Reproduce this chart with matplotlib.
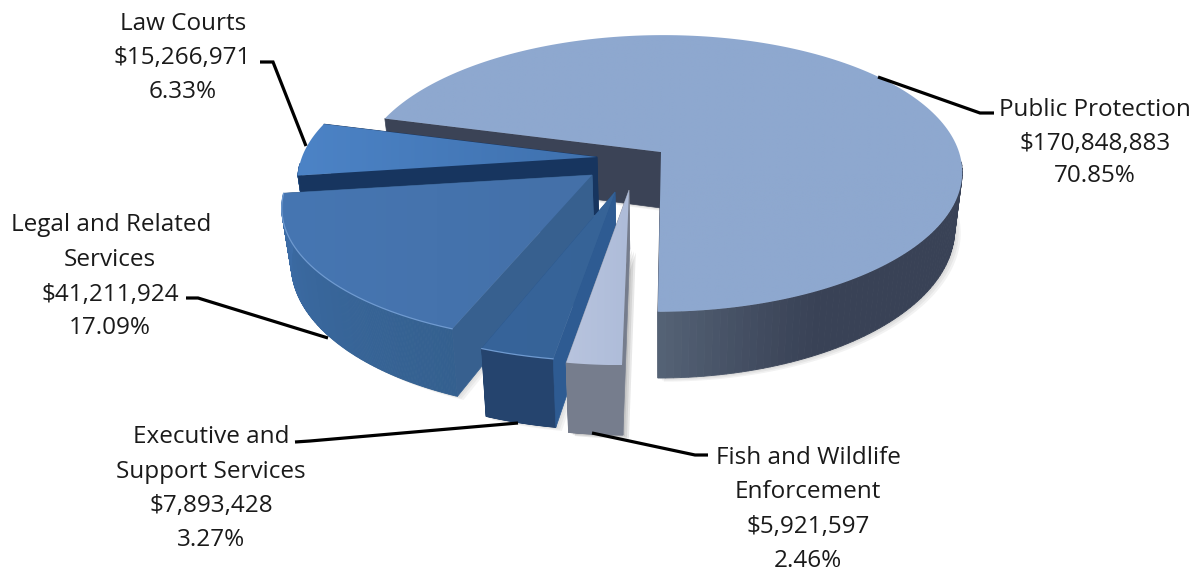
import numpy as np
import matplotlib
matplotlib.use("Agg")
import matplotlib.pyplot as plt
from matplotlib.colors import to_rgb
from matplotlib.patches import Polygon

# Budget categories, clockwise from the front of the pie
categories = ["Fish and Wildlife\nEnforcement", "Executive and\nSupport Services",
              "Legal and Related\nServices", "Law Courts", "Public Protection"]
amounts = [5921597, 7893428, 41211924, 15266971, 170848883]
percent_labels = ["2.46%", "3.27%", "17.09%", "6.33%", "70.85%"]

# Perspective and explosion of each slice: apex x/y, radii, tilt, skew, thickness
geometry = [
    dict(ax=629, ay=190, a=148, b=308, p=.155, s=-.04, d=59),
    dict(ax=615, ay=192, a=143, b=312, p=.155, s=-.031, d=58),
    dict(ax=592, ay=175, a=129, b=301, p=.23, s=-.03, d=53),
    dict(ax=597, ay=157, a=133, b=295, p=.155, s=-.03, d=58),
    dict(ax=661, ay=152, a=135, b=298, p=.155, s=-.02, d=56),
]
styles = [
    dict(top=("#b8c4de", "#aebcd9"), wall=("#767d8d", "#767d8d"), left="#8a90a0", right="#767d8d"),
    dict(top=("#36639a", "#376497"), wall=("#25446e", "#25446e"), left="#2d5a90", right="#2e5b92"),
    dict(top=("#4676b2", "#4470a8"), wall=("#34608f", "#3d6da8"), left="#37608f", right="#37608f"),
    dict(top=("#4c83c6", "#3f71ae"), wall=("#3a6aa6", "#3a6aa6"), left="#17355f", right="#17355f"),
    dict(top=("#8ea8cf", "#8ea8cf"), wall=("#394256", "#566477"), left="#3b4356", right="#3b4356"),
]
shadow_strength = [.16, .08, .08, 0, .09]
label_positions = [
    [(808, 455), (808, 489), (808, 524), (808, 558)],
    [(211, 434), (211, 469), (211, 503), (211, 537)],
    [(111, 222), (110, 257), (110, 292), (110, 325)],
    [(183, 21), (182, 55), (183, 89)],
    [(1095, 107), (1095, 141), (1095, 173)],
]
leaders = [
    [(592, 433), (695, 455), (708, 455)],
    [(295, 442), (310, 441), (518, 423)],
    [(186, 298), (198, 298), (328, 338)],
    [(260, 62), (273, 62), (306, 146)],
    [(878, 77), (980, 113), (994, 113)],
]

W, H = 1200, 572
fig = plt.figure(figsize=(W / 100, H / 100), dpi=100)
ax = fig.add_axes([0, 0, 1, 1])
ax.axis("off")


def project(g, theta, bottom=False):
    """Map an angle on the pie rim to the picture, optionally on the lower face."""
    u, v = np.sin(theta), np.cos(theta)
    w = 1 - g["p"] * v
    y = g["ay"] + g["a"] * v / w
    x = g["ax"] + g["b"] * u / w + g["s"] * (y - g["ay"])
    if bottom:
        x = x + (660 - x) * .025
        y = y + g["d"] / w
    return x, y


def apex(g, bottom=False):
    if bottom:
        x = g["ax"] + (660 - g["ax"]) * .025
        return x, g["ay"] + g["d"]
    return g["ax"], g["ay"]


def mix(c0, c1, t):
    c0, c1 = np.array(to_rgb(c0)), np.array(to_rgb(c1))
    return tuple(c0 + (c1 - c0) * t)


def radial_face(g, tx, ty, bx, by, side, col, zorder):
    quad = [apex(g), (tx[side], ty[side]), (bx[side], by[side]), apex(g, True)]
    ax.add_patch(Polygon(quad, closed=True, fc=col, ec=col, lw=.5, zorder=zorder))


fractions = np.array(amounts) / sum(amounts)
edges = np.concatenate([[0], np.cumsum(fractions) * 2 * np.pi])
z = 1.0

# the large slice sits furthest back, so paint from it toward the front
for i in (4, 3, 2, 1, 0):
    g, st = geometry[i], styles[i]
    t0, t1 = -edges[i], -edges[i + 1]
    th = np.linspace(t0, t1, 200)
    tx, ty = project(g, th)
    bx, by = project(g, th, bottom=True)
    top_poly = np.vstack([[apex(g)], np.column_stack([tx, ty])])
    low_poly = np.vstack([[apex(g, True)], np.column_stack([bx, by])])

    # soft drop shadow under the slice
    if shadow_strength[i]:
        for off in (2, 4, 6):
            ax.add_patch(Polygon(low_poly + [off, off * .6], closed=True, fc="#707070",
                                 ec="none", alpha=shadow_strength[i], zorder=z))
    z += 1

    # the face turned away from the viewer goes underneath the rim
    radial_face(g, tx, ty, bx, by, -1, st["left"], z)
    z += 1

    # outer rim, shaded along the arc; the part behind the upper face is skipped
    span = np.abs(th - th[0]) / abs(t1 - t0)
    if i == 4:
        # the big slice only lightens close to its front corner
        reach = .5 / abs(t1 - t0)
        fade = np.clip((span - 1 + reach) / reach, 0, 1) ** 1.3
    else:
        fade = span
    for k in range(len(th) - 1):
        if np.cos(th[k]) < .05:
            continue
        quad = [(tx[k], ty[k]), (tx[k + 1], ty[k + 1]), (bx[k + 1], by[k + 1]), (bx[k], by[k])]
        col = mix(st["wall"][0], st["wall"][1], fade[k])
        ax.add_patch(Polygon(quad, closed=True, fc=col, ec=col, lw=.6, zorder=z))
    z += 1

    # the face toward the viewer sits over the rim
    radial_face(g, tx, ty, bx, by, 0, st["right"], z)
    z += 1

    # upper face with a left-to-right gradient
    x0, x1 = top_poly[:, 0].min(), top_poly[:, 0].max()
    y0, y1 = top_poly[:, 1].min(), top_poly[:, 1].max()
    ramp = np.array([[mix(st["top"][0], st["top"][1], t) for t in np.linspace(0, 1, 64)]])
    patch = Polygon(top_poly, closed=True, fc="none", ec="none", transform=ax.transData, zorder=z)
    ax.add_patch(patch)
    im = ax.imshow(ramp, extent=(x0, x1, y1, y0), aspect="auto", zorder=z, interpolation="bilinear")
    im.set_clip_path(patch)
    z += 1

    # pale highlight on the front edge of the darker blue slices
    if i in (1, 2):
        ax.plot(tx, ty, color="#6f9ad0", lw=.9, zorder=z, solid_capstyle="round")
    z += 1

# leader lines
for pts in leaders:
    xs, ys = zip(*pts)
    ax.plot(xs, ys, color="black", lw=2.3, zorder=z, solid_joinstyle="miter", solid_capstyle="butt")

# labels, positioned by the middle of their capitals
for name, amount, pct, spots in zip(categories, amounts, percent_labels, label_positions):
    lines = name.split("\n") + [f"${amount:,}", pct]
    for text, (x, y) in zip(lines, spots):
        ax.text(x, y + 8.7, text, ha="center", va="baseline", fontsize=17.5, color="#1a1a1a",
                family="Open Sans", zorder=z + 1)

ax.set_xlim(0, W)
ax.set_ylim(H, 0)
fig.savefig("out.png", dpi=100, facecolor="white")
